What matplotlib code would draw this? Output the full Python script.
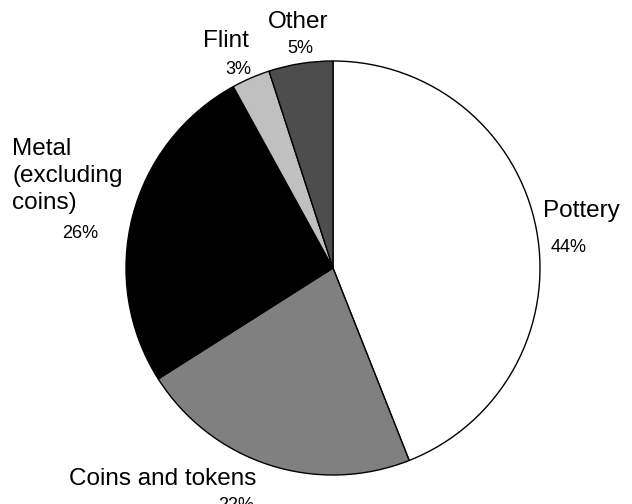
import matplotlib.pyplot as plt

# Finds by category, shares in percent (clockwise from 12 o'clock)
categories = ["Pottery", "Coins and tokens", "Metal\n(excluding\ncoins)", "Flint", "Other"]
shares = [44, 22, 26, 3, 5]
colours = ["#ffffff", "#808080", "#000000", "#c0c0c0", "#4d4d4d"]

plt.rcParams['font.family'] = ['Liberation Sans', 'DejaVu Sans']

fig = plt.figure(figsize=(6.32, 5.04), dpi=100)
ax = fig.add_axes([0, 0, 1, 1])

ax.pie(shares, colors=colours, startangle=90, counterclock=False,
       center=(333, 236), radius=207,
       wedgeprops=dict(edgecolor='black', linewidth=1.0))

# pie() resets the limits, so set them afterwards
ax.set_xlim(0, 632)
ax.set_ylim(0, 504)
ax.set_aspect('equal')
ax.axis('off')

# label placement (pixel coords from top-left, left aligned, baseline of last line)
name_pos = [(543, 217), (69, 485), (12, 209), (203, 47), (268, 28)]
pct_pos = [(551, 252), (218, 510), (62, 238), (225, 74), (287, 53)]

for name, share, (nx, ny), (px, py) in zip(categories, shares, name_pos, pct_pos):
    ax.text(nx, 504 - ny, name, fontsize=17.5, ha='left', va='baseline',
            linespacing=1.3, multialignment='left')
    ax.text(px, 504 - py, f"{share}%", fontsize=13, ha='left', va='baseline')

fig.savefig("out.png", dpi=100)
